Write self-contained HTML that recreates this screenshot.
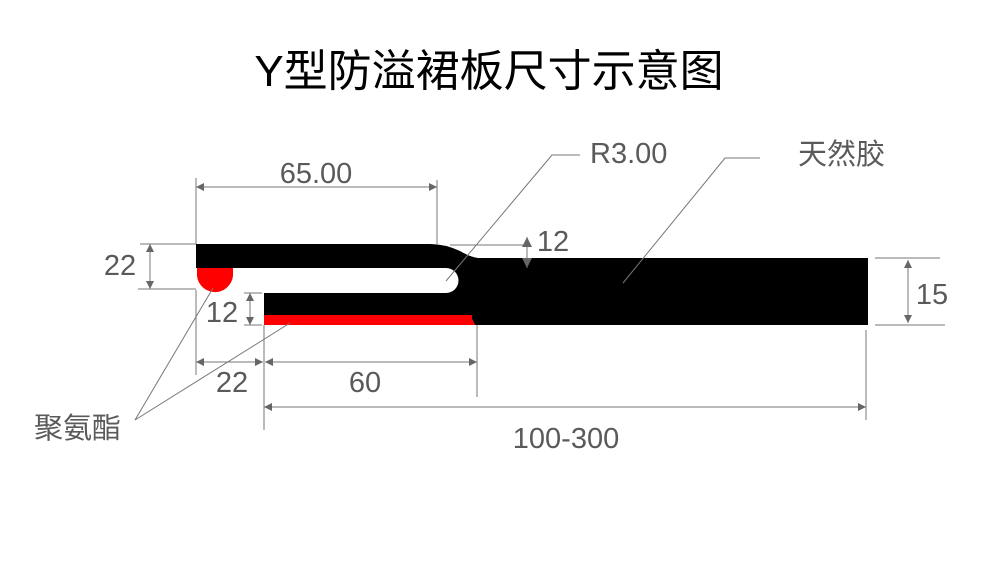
<!DOCTYPE html>
<html><head><meta charset="utf-8"><style>html,body{margin:0;padding:0;background:#fff;}svg{display:block}</style></head>
<body>
<svg width="1000" height="565" viewBox="0 0 1000 565" xmlns="http://www.w3.org/2000/svg">
<defs>
<marker id="a" viewBox="0 0 10 10" refX="10" refY="5" markerWidth="12" markerHeight="8" orient="auto-start-reverse" markerUnits="userSpaceOnUse"><path d="M0,0 L10,5 L0,10 z" fill="#666"/></marker>
</defs>
<text x="489" y="86" text-anchor="middle" font-family="Liberation Sans, Noto Sans CJK SC, sans-serif" font-size="44" fill="#000">Y型防溢裙板尺寸示意图</text>

<!-- profile -->
<path d="M196,244 L430,244 Q445,244 460,251 Q470,257 478,258 L868,258 L868,325 L475,325 L470,315 L264,315 L264,293 L446,293 A12.5,12.5 0 0 0 446,268 L196,268 Z" fill="#000"/>
<rect x="264" y="315" width="208" height="10" fill="#f00"/>
<path d="M470,315 L475,325 L472,325 Z" fill="#f00"/>
<path d="M197,268 L233,268 L233,272 A18,18 0 0 1 197,276 Z" fill="#f00"/>

<g stroke="#777" stroke-width="1" fill="none">
<line x1="196" y1="178" x2="196" y2="244"/><line x1="437" y1="180" x2="437" y2="244"/>
<line x1="196" y1="187" x2="437" y2="187" marker-start="url(#a)" marker-end="url(#a)"/>
<line x1="140" y1="244" x2="196" y2="244"/><line x1="138" y1="289" x2="196" y2="289"/>
<line x1="150" y1="244" x2="150" y2="289" marker-start="url(#a)" marker-end="url(#a)"/>
<line x1="244" y1="293" x2="262" y2="293"/><line x1="244" y1="325" x2="262" y2="325"/>
<line x1="250" y1="293" x2="250" y2="325" marker-start="url(#a)" marker-end="url(#a)"/>
<line x1="196" y1="290" x2="196" y2="375"/><line x1="264" y1="325" x2="264" y2="430"/><line x1="477" y1="325" x2="477" y2="397"/>
<line x1="196" y1="362" x2="263" y2="362" marker-start="url(#a)" marker-end="url(#a)"/>
<line x1="265" y1="362" x2="477" y2="362" marker-start="url(#a)" marker-end="url(#a)"/>
<line x1="866" y1="330" x2="866" y2="420"/>
<line x1="264" y1="407" x2="866" y2="407" marker-start="url(#a)" marker-end="url(#a)"/>
<line x1="450" y1="245" x2="527" y2="245"/>
<line x1="527" y1="237" x2="527" y2="268"/>
<path d="M522,247 L527,237 L532,247 Z M522,258 L527,268 L532,258 Z" fill="#666" stroke="none"/>
<line x1="875" y1="258" x2="940" y2="258"/><line x1="875" y1="325" x2="945" y2="325"/>
<line x1="908" y1="260" x2="908" y2="323" marker-start="url(#a)" marker-end="url(#a)"/>
<polyline points="446,281 552,155 580,155"/>
<polyline points="623,283 725,158 760,158"/>
<line x1="135" y1="420" x2="213" y2="288"/>
<line x1="135" y1="420" x2="290" y2="323"/>
</g>

<g font-family="Liberation Sans, Noto Sans CJK SC, sans-serif" font-size="29" fill="#5a5a5a">
<text x="316" y="183" text-anchor="middle">65.00</text>
<text x="120" y="275" text-anchor="middle">22</text>
<text x="222" y="322" text-anchor="middle">12</text>
<text x="232" y="392" text-anchor="middle">22</text>
<text x="365" y="392" text-anchor="middle">60</text>
<text x="566" y="448" text-anchor="middle">100-300</text>
<text x="553" y="251" text-anchor="middle">12</text>
<text x="932" y="304" text-anchor="middle">15</text>
<text x="590" y="163">R3.00</text>
<text x="798" y="164">天然胶</text>
<text x="34" y="438">聚氨酯</text>
</g>
</svg>
</body></html>
